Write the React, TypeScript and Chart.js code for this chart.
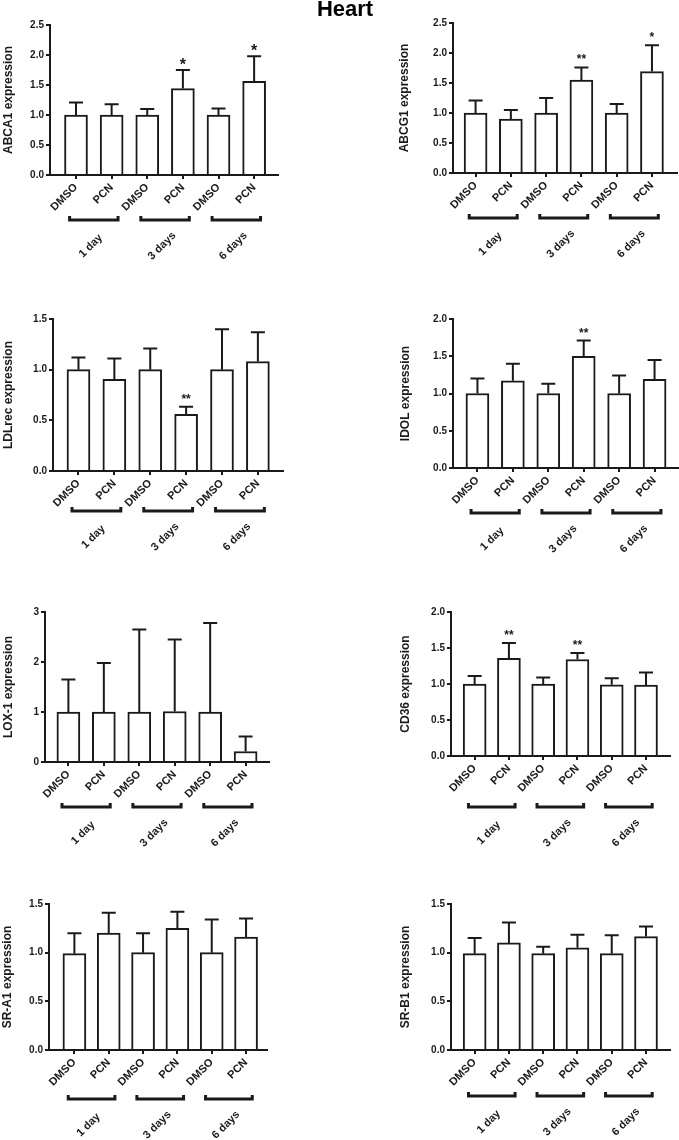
import React, { useEffect, useRef } from "react";
import { Chart, registerables } from "chart.js";

Chart.register(...registerables);

const FONT = "'Liberation Sans', Arial, Helvetica, sans-serif";
const INK = "#1a1a1a";

// ---- data ----
const xLabels = ["DMSO", "PCN", "DMSO", "PCN", "DMSO", "PCN"];
const groupLabels = ["1 day", "3 days", "6 days"];

const abca1Mean = [1.0, 1.0, 1.0, 1.44, 1.0, 1.56];
const abca1Err = [0.21, 0.18, 0.1, 0.31, 0.11, 0.42];
const abca1Sig = ["", "", "", "*", "", "*"];

const abcg1Mean = [1.0, 0.9, 1.0, 1.55, 1.0, 1.69];
const abcg1Err = [0.21, 0.15, 0.25, 0.21, 0.15, 0.44];
const abcg1Sig = ["", "", "", "**", "", "*"];

const ldlrecMean = [1.0, 0.905, 1.0, 0.56, 1.0, 1.08];
const ldlrecErr = [0.12, 0.205, 0.21, 0.075, 0.4, 0.29];
const ldlrecSig = ["", "", "", "**", "", ""];

const idolMean = [1.0, 1.17, 1.0, 1.5, 1.0, 1.19];
const idolErr = [0.2, 0.23, 0.13, 0.21, 0.24, 0.26];
const idolSig = ["", "", "", "**", "", ""];

const lox1Mean = [1.0, 1.0, 1.0, 1.01, 1.0, 0.21];
const lox1Err = [0.65, 0.98, 1.65, 1.44, 1.78, 0.3];
const lox1Sig = ["", "", "", "", "", ""];

const cd36Mean = [1.0, 1.355, 1.0, 1.34, 0.99, 0.985];
const cd36Err = [0.11, 0.215, 0.09, 0.09, 0.09, 0.175];
const cd36Sig = ["", "**", "", "**", "", ""];

const sra1Mean = [0.99, 1.2, 1.0, 1.25, 1.0, 1.16];
const sra1Err = [0.21, 0.21, 0.2, 0.17, 0.34, 0.19];
const sra1Sig = ["", "", "", "", "", ""];

const srb1Mean = [0.99, 1.1, 0.99, 1.05, 0.99, 1.165];
const srb1Err = [0.16, 0.21, 0.07, 0.135, 0.19, 0.105];
const srb1Sig = ["", "", "", "", "", ""];

const YW = 30;
const XH = 40;

type Panel = {
  title: string;
  mean: number[];
  err: number[];
  sig: string[];
  yMax: number;
  yStep: number;
  dec: number;
  px: number; py: number; w: number; h: number;
  axisL: number; axisR: number; yTop: number; yBot: number;
  xMin: number; xMax: number;
  bracketY: number; titleX: number;
  starSize: number; starGap: number;
};

const panels: Panel[] = [
  { title: "ABCA1 expression", mean: abca1Mean, err: abca1Err, sig: abca1Sig, yMax: 2.5, yStep: 0.5, dec: 1,
    px: 0, py: 0, w: 340, h: 290, axisL: 50, axisR: 278, yTop: 25, yBot: 175, xMin: -0.73, xMax: 5.67,
    bracketY: 220, titleX: 9, starSize: 16, starGap: 0 },
  { title: "ABCG1 expression", mean: abcg1Mean, err: abcg1Err, sig: abcg1Sig, yMax: 2.5, yStep: 0.5, dec: 1,
    px: 340, py: 0, w: 339, h: 290, axisL: 113, axisR: 337, yTop: 23, yBot: 173, xMin: -0.64, xMax: 5.71,
    bracketY: 218, titleX: 65, starSize: 12, starGap: 4 },
  { title: "LDLrec expression", mean: ldlrecMean, err: ldlrecErr, sig: ldlrecSig, yMax: 1.5, yStep: 0.5, dec: 1,
    px: 0, py: 290, w: 340, h: 280, axisL: 53, axisR: 283, yTop: 29, yBot: 181, xMin: -0.71, xMax: 5.7,
    bracketY: 221, titleX: 9, starSize: 12, starGap: 4 },
  { title: "IDOL expression", mean: idolMean, err: idolErr, sig: idolSig, yMax: 2.0, yStep: 0.5, dec: 1,
    px: 340, py: 290, w: 339, h: 280, axisL: 113, axisR: 339, yTop: 29, yBot: 178, xMin: -0.69, xMax: 5.69,
    bracketY: 223, titleX: 66, starSize: 12, starGap: 4 },
  { title: "LOX-1 expression", mean: lox1Mean, err: lox1Err, sig: lox1Sig, yMax: 3, yStep: 1, dec: 0,
    px: 0, py: 570, w: 340, h: 290, axisL: 45, axisR: 269, yTop: 42, yBot: 192, xMin: -0.66, xMax: 5.66,
    bracketY: 237, titleX: 9, starSize: 12, starGap: 4 },
  { title: "CD36 expression", mean: cd36Mean, err: cd36Err, sig: cd36Sig, yMax: 2.0, yStep: 0.5, dec: 1,
    px: 340, py: 570, w: 339, h: 290, axisL: 111, axisR: 330, yTop: 42, yBot: 186, xMin: -0.69, xMax: 5.7,
    bracketY: 237, titleX: 66, starSize: 12, starGap: 4 },
  { title: "SR-A1 expression", mean: sra1Mean, err: sra1Err, sig: sra1Sig, yMax: 1.5, yStep: 0.5, dec: 1,
    px: 0, py: 860, w: 340, h: 280, axisL: 49, axisR: 267, yTop: 44, yBot: 190, xMin: -0.74, xMax: 5.61,
    bracketY: 239, titleX: 8, starSize: 12, starGap: 4 },
  { title: "SR-B1 expression", mean: srb1Mean, err: srb1Err, sig: srb1Sig, yMax: 1.5, yStep: 0.5, dec: 1,
    px: 340, py: 860, w: 339, h: 280, axisL: 111, axisR: 330, yTop: 44, yBot: 190, xMin: -0.69, xMax: 5.7,
    bracketY: 236, titleX: 66, starSize: 12, starGap: 4 },
];

function PanelChart({ p }: { p: Panel }) {
  const ref = useRef<HTMLCanvasElement | null>(null);
  useEffect(() => {
    if (!ref.current) return;
    const extras = {
      id: "extras",
      afterDatasetsDraw(chart: any) {
        const ctx = chart.ctx;
        const meta = chart.getDatasetMeta(0);
        const ys = chart.scales.y;
        const xs = chart.scales.x;
        ctx.save();
        ctx.strokeStyle = INK;
        ctx.fillStyle = INK;
        ctx.lineWidth = 2;
        meta.data.forEach((bar: any, i: number) => {
          const base = ys.getPixelForValue(p.mean[i]);
          const top = ys.getPixelForValue(p.mean[i] + p.err[i]);
          ctx.beginPath();
          ctx.moveTo(bar.x, base);
          ctx.lineTo(bar.x, top);
          ctx.moveTo(bar.x - 7, top);
          ctx.lineTo(bar.x + 7, top);
          ctx.stroke();
          if (p.sig[i]) {
            ctx.font = `bold ${p.starSize}px ${FONT}`;
            ctx.textAlign = "center";
            ctx.textBaseline = "alphabetic";
            ctx.fillText(p.sig[i], bar.x, top - p.starGap);
          }
        });
        // group brackets and labels
        groupLabels.forEach((g, k) => {
          const x1 = xs.getPixelForValue(2 * k - 0.18);
          const x2 = xs.getPixelForValue(2 * k + 1 + 0.18);
          const by = p.bracketY;
          ctx.lineWidth = 3;
          ctx.beginPath();
          ctx.moveTo(x1, by - 4);
          ctx.lineTo(x1, by);
          ctx.lineTo(x2, by);
          ctx.lineTo(x2, by - 4);
          ctx.stroke();
          ctx.save();
          ctx.translate((x1 + x2) / 2 - 3, by + 26);
          ctx.rotate(-Math.PI / 4);
          ctx.font = `bold 11px ${FONT}`;
          ctx.textAlign = "center";
          ctx.textBaseline = "middle";
          ctx.fillText(g, 0, 0);
          ctx.restore();
        });
        // y title
        ctx.save();
        ctx.translate(p.titleX, (chart.chartArea.top + chart.chartArea.bottom) / 2);
        ctx.rotate(-Math.PI / 2);
        ctx.font = `bold 12px ${FONT}`;
        ctx.textAlign = "center";
        ctx.textBaseline = "middle";
        ctx.fillText(p.title, 0, 0);
        ctx.restore();
        ctx.restore();
      },
    };
    const chart = new Chart(ref.current, {
      type: "bar",
      data: {
        datasets: [
          {
            data: p.mean.map((v, i) => ({ x: i, y: v })),
            backgroundColor: "#ffffff",
            borderColor: INK,
            borderWidth: 2,
            barThickness: 23,
          } as any,
        ],
      },
      plugins: [extras],
      options: {
        animation: false,
        responsive: false,
        maintainAspectRatio: false,
        layout: {
          padding: {
            left: p.axisL - YW,
            top: p.yTop,
            right: p.w - p.axisR,
            bottom: p.h - p.yBot - XH,
          },
        },
        plugins: { legend: { display: false }, tooltip: { enabled: false }, title: { display: false } },
        scales: {
          x: {
            type: "linear",
            offset: false,
            min: p.xMin,
            max: p.xMax,
            afterFit: (s: any) => {
              s.height = XH;
              s.paddingLeft = 0;
              s.paddingRight = 0;
              s.paddingTop = 0;
              s.paddingBottom = 0;
            },
            afterBuildTicks: (s: any) => { s.ticks = xLabels.map((_, i) => ({ value: i })); },
            ticks: {
              autoSkip: false,
              minRotation: 45,
              maxRotation: 45,
              padding: 2,
              color: INK,
              font: { family: FONT, size: 11, weight: "bold" },
              callback: (v: any, i: number) => xLabels[i],
            },
            grid: { offset: false, drawOnChartArea: false, drawTicks: true, tickLength: 4, color: INK, lineWidth: 2 },
            border: { display: true, color: INK, width: 2 },
          } as any,
          y: {
            min: 0,
            max: p.yMax,
            afterFit: (s: any) => {
              s.width = YW;
              s.paddingLeft = 0;
              s.paddingRight = 0;
              s.paddingTop = 0;
              s.paddingBottom = 0;
            },
            ticks: {
              stepSize: p.yStep,
              padding: 2,
              color: INK,
              font: { family: FONT, size: 10, weight: "bold" },
              callback: (v: any) => Number(v).toFixed(p.dec),
            },
            grid: { drawOnChartArea: false, drawTicks: true, tickLength: 4, color: INK, lineWidth: 2 },
            border: { display: true, color: INK, width: 2 },
          } as any,
        },
      },
    });
    return () => chart.destroy();
  }, [p]);
  return (
    <canvas
      ref={ref}
      width={p.w}
      height={p.h}
      style={{ position: "absolute", left: p.px, top: p.py, width: p.w, height: p.h }}
    />
  );
}

export default function App() {
  return (
    <div style={{ position: "absolute", left: 0, top: 0, width: 679, height: 1140, background: "#fff", overflow: "hidden" }}>
      {panels.map((p, i) => (
        <PanelChart key={i} p={p} />
      ))}
      <div
        style={{
          position: "absolute",
          left: 0,
          width: 690,
          top: -2,
          textAlign: "center",
          fontFamily: FONT,
          fontWeight: "bold",
          fontSize: 22,
          lineHeight: "22px",
          color: "#000",
        }}
      >
        Heart
      </div>
    </div>
  );
}
